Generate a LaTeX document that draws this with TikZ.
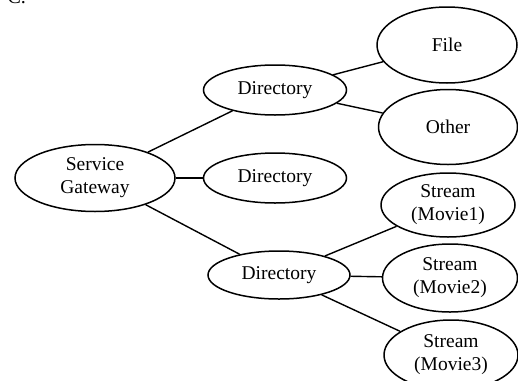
\documentclass[tikz,border=0pt]{standalone}
\usepackage{fontspec}
\setmainfont{Liberation Serif}
\usetikzlibrary{shapes.geometric}
\begin{document}
\begin{tikzpicture}[x=1pt,y=-1pt,
  oval/.style={ellipse,draw,line width=1.5pt,inner sep=0pt,align=center,
    font=\fontsize{19.5}{23}\selectfont},
  link/.style={line width=1.4pt}]
\useasboundingbox (0,0) rectangle (518,380);
\clip (0,0) rectangle (518,380);
\node[anchor=base west,font=\fontsize{20}{24}\selectfont] (lbl) at (4,4) {C.};
\node[oval,minimum width=160pt,minimum height=67pt] (sg) at (95,178) {Service\\Gateway};
\node[oval,minimum width=143pt,minimum height=50pt] (d1) at (275,90) {Directory};
\node[oval,minimum width=143pt,minimum height=50pt] (d2) at (275,178) {Directory};
\node[oval,minimum width=142pt,minimum height=48pt] (d3) at (279,275) {Directory};
\node[oval,minimum width=140pt,minimum height=76pt] (file) at (447,45) {File};
\node[oval,minimum width=139pt,minimum height=75pt] (other) at (448,127) {Other};
\node[oval,minimum width=134pt,minimum height=64pt] (m1) at (448,205) {Stream\\(Movie1)};
\node[oval,minimum width=135pt,minimum height=68pt] (m2) at (450,278) {Stream\\(Movie2)};
\node[oval,minimum width=134pt,minimum height=70pt] (m3) at (451,355) {Stream\\(Movie3)};
\draw[link] (sg) -- (d1);
\draw[link] (sg) -- (d2);
\draw[link] (sg) -- (d3);
\draw[link] (d1) -- (file);
\draw[link] (d1) -- (other);
\draw[link] (d3) -- (m1);
\draw[link] (d3) -- (m2);
\draw[link] (d3) -- (m3);
\end{tikzpicture}
\end{document}
